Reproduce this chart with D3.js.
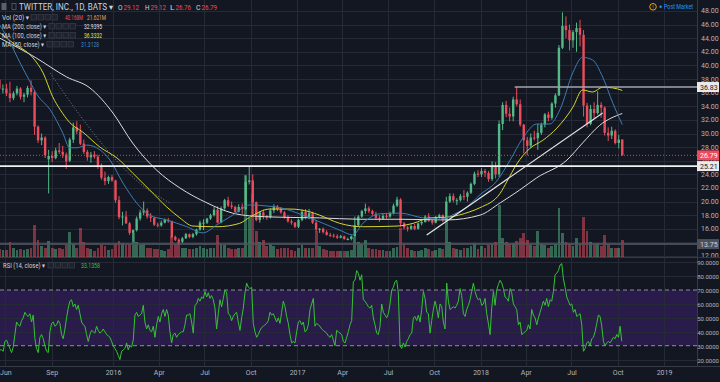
<!DOCTYPE html>
<html><head><meta charset="utf-8">
<script src="https://cdn.jsdelivr.net/npm/d3@7"></script>
<style>
html,body{margin:0;padding:0;background:#131722;overflow:hidden}
svg{display:block}
text{font-family:Roboto,"Liberation Sans","DejaVu Sans",sans-serif}
</style></head><body>
<svg id="c" width="720" height="382"></svg>
<script>
// ---------------- DATA ----------------
const firstWeek = "2015-05-18";           // Monday of the first weekly candle
// weekly candles [open, high, low, close]
const ohlc = [
[37.9,38.2,36.3,36.6],[36.6,37.2,35.9,36.6],[36.6,37.3,35.5,35.9],[35.9,37.6,34.6,35.2],[35.2,36.2,34.9,35.9],
[35.9,37.0,35.6,36.6],[36.6,36.8,35.0,35.4],[35.4,36.0,34.6,35.7],[35.7,37.0,35.3,36.7],[36.7,37.8,35.6,36.1],
[36.1,36.4,29.8,31.0],[31.0,31.2,28.6,29.0],[29.0,30.0,28.3,29.4],[29.4,29.6,26.4,26.8],[26.2,27.6,21.2,26.7],
[26.7,27.4,25.8,26.4],[26.4,27.9,26.2,27.5],[27.5,28.6,27.0,27.3],[27.3,28.2,26.4,26.9],[26.9,27.2,24.8,25.9],
[26.0,29.4,25.8,29.1],[29.1,31.6,28.6,30.9],[30.9,31.8,29.9,30.3],[30.3,31.3,28.3,28.5],[28.5,29.1,27.0,27.3],
[27.3,27.6,26.0,26.5],[26.5,27.3,25.7,26.9],[26.9,27.4,26.3,26.6],[26.6,26.9,24.8,25.3],[25.3,25.6,23.2,23.5],
[23.5,24.4,22.4,23.0],[23.0,23.8,22.6,23.6],[23.6,23.9,22.9,23.1],
[23.1,23.2,19.8,20.2],[20.2,20.8,17.4,17.7],[17.7,18.5,16.5,17.8],[17.8,18.6,16.7,16.8],[16.8,17.0,15.1,15.4],
[15.4,15.9,14.1,15.8],[15.8,17.8,15.6,17.5],[17.5,18.8,17.2,18.4],[18.4,20.0,18.0,18.7],[18.7,19.0,17.5,17.8],
[17.8,18.3,17.0,17.6],[17.6,17.7,16.4,16.6],[16.6,16.9,16.2,16.5],[16.5,17.2,16.3,16.9],[16.9,17.5,16.8,17.3],
[17.3,17.6,16.9,17.1],[17.1,17.2,14.6,14.8],[14.8,15.0,14.2,14.4],[14.4,14.6,13.73,14.1],[14.1,14.8,13.9,14.6],
[14.6,15.4,14.5,15.2],[15.2,15.3,14.6,14.8],[14.8,15.4,14.6,15.2],[15.2,16.0,15.0,15.9],[15.9,17.2,15.7,16.9],
[16.9,17.4,15.8,16.9],[16.9,17.6,16.7,17.5],[17.5,18.2,17.3,18.0],[18.0,19.2,17.8,18.8],[18.8,19.3,16.8,16.9],
[16.9,19.3,16.8,19.0],[19.0,20.4,18.8,20.2],[20.2,20.7,19.2,19.4],[19.4,20.0,18.9,19.2],[19.2,19.4,18.3,18.5],
[18.5,19.6,18.4,19.2],[19.2,19.7,18.2,18.9],[18.9,23.8,18.7,22.9],[22.9,25.2,22.5,23.1],[23.1,24.0,17.9,19.9],
[19.9,20.0,17.1,17.3],[17.3,18.6,16.9,18.4],[18.4,18.8,17.4,17.9],[17.9,18.0,17.3,17.7],[17.7,19.0,17.5,18.7],
[18.7,19.6,18.3,19.3],[19.3,19.5,18.6,18.9],[18.9,19.2,18.2,18.4],[18.4,18.6,17.5,17.7],[17.7,18.0,16.9,17.1],
[17.1,17.4,16.6,16.9],[16.9,17.0,16.1,16.3],
[16.3,17.5,16.1,17.3],[17.3,18.8,17.1,18.5],[18.5,18.9,17.4,17.6],[17.6,18.9,17.4,18.3],[18.3,18.5,16.7,16.9],
[16.9,17.3,15.6,15.9],[15.9,16.1,15.4,16.0],[16.0,16.2,15.3,15.5],[15.5,15.8,15.0,15.1],[15.1,15.4,14.8,15.0],
[15.0,15.3,14.7,14.9],[14.9,15.2,14.5,14.7],[14.7,15.1,14.6,14.9],[14.9,15.0,14.4,14.5],[14.5,14.7,14.3,14.5],
[14.5,15.0,14.3,14.9],[14.9,17.8,14.8,16.5],[16.5,18.0,16.4,17.8],[17.8,18.8,17.6,18.6],[18.6,19.7,18.2,19.0],
[19.0,19.3,18.3,18.6],[18.6,18.8,17.9,18.2],[18.2,18.5,17.3,17.6],[17.6,18.0,17.0,17.5],[17.5,18.3,17.3,17.9],
[17.9,18.3,17.5,17.8],[17.8,18.5,17.6,18.3],[18.3,19.7,18.1,19.4],[19.4,20.7,19.2,20.3],[20.3,20.5,16.3,16.8],
[16.8,17.0,15.9,16.2],[16.2,16.4,15.6,16.0],[16.0,16.6,15.8,16.4],[16.4,16.7,15.8,16.0],[16.0,16.9,15.9,16.8],
[16.8,17.3,16.5,17.0],[17.0,18.0,16.9,17.8],[17.8,18.3,17.0,17.2],[17.2,17.4,16.6,16.9],[16.9,17.9,16.8,17.7],
[17.7,18.2,17.5,18.0],[18.0,18.1,17.0,17.3],[17.3,20.7,17.1,20.0],[20.0,21.2,19.8,20.8],[20.8,21.2,19.9,20.2],
[20.2,20.5,19.5,20.2],[20.2,21.1,20.0,20.8],[20.8,21.7,20.2,20.7],[20.7,21.5,20.0,21.3],[21.3,22.8,21.1,22.6],
[22.6,24.4,22.4,24.1],[24.1,24.6,23.6,24.0],
[24.0,24.9,23.6,24.5],[24.5,24.8,23.6,24.2],[24.2,24.5,22.9,23.3],[23.3,25.9,23.0,25.2],[25.2,25.8,23.4,24.0],
[24.0,31.9,23.6,31.4],[31.4,34.6,30.5,34.2],[34.2,34.8,32.4,32.9],[32.9,33.8,31.8,32.5],[32.5,35.4,31.8,35.0],
[35.0,36.83,34.0,34.3],[34.3,35.0,31.0,31.3],[31.3,31.4,27.1,29.0],[29.0,29.5,26.8,28.2],[28.2,30.0,27.9,29.4],
[29.4,30.4,29.0,29.3],[29.3,31.4,27.6,30.1],[30.1,31.6,29.8,31.3],[31.3,33.0,30.9,32.8],[32.8,33.2,31.8,32.3],
[32.3,34.6,32.0,34.4],[34.4,35.9,33.8,35.6],[35.6,43.0,35.5,42.6],[42.6,47.8,42.4,45.8],[45.8,47.2,44.0,45.2],
[45.2,46.0,42.2,43.7],[43.7,45.2,42.6,44.9],[44.9,46.3,42.0,45.5],[45.5,46.7,42.8,44.5],[44.5,45.2,32.5,34.1],
[34.1,34.5,30.9,31.4],[31.4,34.2,31.2,33.6],[33.6,34.6,32.2,33.0],[33.0,36.2,32.8,34.2],[34.2,34.6,32.3,33.8],
[33.8,34.0,29.7,30.1],[30.1,30.9,28.9,29.7],[29.7,31.0,29.2,30.4],[30.4,30.6,28.4,28.6],[28.6,29.8,27.8,29.1],
[29.12,29.12,26.76,26.79]
];
// weekly volume (peak daily volume of the week, millions)
const volumes = [
18,16,17,35,22,16,18,17,19,22,75,40,25,22,38,22,18,20,19,28,58,30,22,67,35,22,18,14,20,28,25,16,18,
30,38,32,28,30,55,35,28,30,22,20,18,18,16,15,18,48,30,35,22,20,18,18,20,25,22,18,20,22,50,30,28,22,18,18,20,22,190,90,145,60,35,40,25,30,25,18,20,22,20,16,14,
22,28,20,22,20,60,25,18,16,15,14,15,14,14,13,16,47,35,30,40,22,18,18,16,17,15,14,20,24,67,30,20,16,14,15,16,20,18,15,17,20,18,91,35,22,18,16,20,22,25,32,18,
25,22,28,30,35,120,45,35,30,32,38,45,55,40,28,25,60,30,28,22,25,30,114,55,35,30,25,45,30,93,60,35,30,32,25,50,30,22,20,22,40
];
// moving averages [date, value]
const ma200 = [["2015-05-21",44.0],["2015-07-30",41.2],["2015-10-01",38.3],["2015-11-16",36.7],["2016-01-01",33.0],["2016-02-09",28.6],["2016-03-28",24.6],["2016-05-13",22.0],["2016-07-06",19.8],["2016-08-26",18.3],["2016-09-29",17.9],["2016-11-28",17.7],["2017-02-15",17.6],["2017-05-06",17.4],["2017-07-25",17.4],["2017-10-26",17.3],["2017-12-31",18.0],["2018-02-09",19.8],["2018-03-20",21.7],["2018-04-23",23.5],["2018-06-22",26.1],["2018-07-23",28.6],["2018-08-26",31.2],["2018-10-10",32.94]];
const ma100 = [["2015-05-21",44.8],["2015-06-16",43.3],["2015-07-26",41.1],["2015-08-15",38.9],["2015-09-03",35.4],["2015-09-18",33.5],["2015-10-07",31.6],["2015-11-02",30.2],["2015-12-06",28.0],["2016-01-09",26.4],["2016-02-09",24.2],["2016-03-14",21.7],["2016-04-17",19.2],["2016-05-13",17.6],["2016-06-08",16.4],["2016-07-26",16.3],["2016-09-09",16.8],["2016-09-29",17.7],["2016-11-08",18.9],["2016-12-18",18.9],["2017-01-26",18.5],["2017-02-15",18.0],["2017-03-27",16.8],["2017-05-12",16.3],["2017-07-19",16.4],["2017-08-20",16.8],["2017-09-22",17.6],["2017-10-26",17.7],["2017-12-11",18.5],["2017-12-31",19.1],["2018-02-09",21.2],["2018-02-23",23.0],["2018-03-14",25.5],["2018-04-09",27.8],["2018-05-05",29.0],["2018-06-02",30.8],["2018-07-04",33.9],["2018-07-23",36.4],["2018-08-12",36.1],["2018-09-01",36.8],["2018-09-21",36.7],["2018-10-10",36.33]];
const ma50 = [["2015-05-21",45.9],["2015-06-10",43.4],["2015-06-30",40.4],["2015-07-20",37.6],["2015-08-03",35.7],["2015-08-29",33.5],["2015-09-23",30.1],["2015-10-07",27.9],["2015-10-21",27.9],["2015-11-10",28.3],["2015-12-06",27.6],["2015-12-26",26.1],["2016-01-21",22.7],["2016-02-17",19.8],["2016-03-14",18.0],["2016-04-17",17.3],["2016-05-27",16.3],["2016-06-28",15.4],["2016-07-26",16.6],["2016-08-26",18.0],["2016-09-29",19.5],["2016-11-08",19.3],["2016-11-28",19.1],["2017-01-13",18.0],["2017-02-22",16.8],["2017-03-27",15.8],["2017-04-22",15.1],["2017-05-12",16.8],["2017-06-15",18.2],["2017-07-25",18.3],["2017-09-08",17.6],["2017-10-12",17.4],["2017-11-11",18.2],["2017-12-05",19.2],["2017-12-31",21.0],["2018-02-01",22.9],["2018-03-01",26.1],["2018-03-26",29.3],["2018-04-23",31.4],["2018-05-19",31.4],["2018-06-08",33.5],["2018-07-04",39.0],["2018-07-23",41.2],["2018-08-12",40.8],["2018-09-01",38.3],["2018-09-21",34.5],["2018-10-10",31.31]];
const dottedGuide = [["2015-08-29",38.9],["2015-10-27",32.7],["2015-12-26",27.1],["2016-02-23",22.7],["2016-04-23",19.8]];
const trendLine = [["2017-09-16",15.1],["2018-09-01",33.0]];
const resistStart = "2018-03-10";
const levels = {resist:36.83, last:26.79, support:25.21, low:13.75};
// legend read-outs
const volNow = "40.168M", volAvg = "21.621M";
const maNow = {ma200:32.9395, ma100:36.3332, ma50:31.3128};
const rsiNow = 33.1358;
// RSI(14) sampled evenly from first to last bar
const rsiFirst = "2015-05-21", rsiLast = "2018-10-09";
const rsi = [
27,27,26,33,34,31,28,25,29,38,47,45,44,48,50,54,52,51,53,47,
52,35,28,25,36,38,35,30,26,25,40,46,47,44,45,48,46,38,35,42,
50,57,62,63,58,60,56,59,53,47,45,44,38,33,38,41,40,39,44,41,
39,40,42,40,38,37,36,33,30,28,26,23,20,26,27,28,32,27,30,29,
34,52,54,51,52,53,59,47,42,45,41,40,44,36,45,51,47,53,56,51,
56,52,40,32,38,39,36,38,39,40,40,45,52,52,53,47,39,59,60,64,
62,65,64,69,65,68,64,66,63,57,42,53,63,58,64,70,68,53,52,48,
51,53,54,47,41,50,57,68,75,72,71,72,46,40,36,38,41,43,44,45,
46,48,54,52,53,50,47,50,46,54,62,58,51,46,38,32,33,32,40,47,
48,45,47,40,41,45,
56,60,64,44,46,45,44,42,41,40,39,37,36,38,34,30,41,40,39,38,
33,32,36,40,45,48,76,77,84,82,77,81,63,62,60,58,57,59,50,45,
39,38,44,60,54,52,50,53,60,70,72,76,77,68,30,28,32,29,33,35,
38,39,50,51,48,52,47,56,69,64,54,53,39,48,56,62,57,50,60,58,
47,42,75,62,56,57,58,57,59,62,71,66,53,51,56,59,63,69,75,69,
65,63,64,59,60,64,53,46,38,57,69,59,70,74,77,75,71,65,64,62,
71,68,60,58,56,45,47,38,39,40,41,45,42,56,52,50,45,50,54,58,
62,59,64,58,63,62,69,81,82,84,88,89,78,72,65,62,59,60,54,56,
51,52,53,45,26,28,32,33,30,35,36,40,46,52,51,44,33,30,32,33,
32,34,36,35,38,36,44,33.1358
];
const priceTicks = [12,14,16,18,20,22,24,26,28,30,32,34,36,38,40,42,44,46,48];
const rsiTicks = [20,30,40,50,60,70,80,90];
const timeTicks = ["2015-06-01","2015-09-01","2016-01-01","2016-04-01","2016-07-01","2016-10-01","2017-01-01","2017-04-01","2017-07-01","2017-10-01","2018-01-01","2018-04-01","2018-07-01","2018-10-01","2019-01-01"];
const timeLabels = ["Jun","Sep","2016","Apr","Jul","Oct","2017","Apr","Jul","Oct","2018","Apr","Jul","Oct","2019"];

// ---------------- LAYOUT ----------------
const PR = 697, MAIN_B = 257, RSI_T = 258, RSI_B = 366;
const C = {bg:"#131722", grid:"#262a36", axis:"#b2b5be", up:"#53b987", down:"#eb4d5c",
  upV:"rgba(83,185,135,0.5)", downV:"rgba(235,77,92,0.5)", ma200:"#dcdcdc", ma100:"#d6d62c",
  ma50:"#3b7db3", rsi:"#35c235", band:"#2a1c4a", sep:"#363a45"};
const parse = d3.timeParse("%Y-%m-%d");
const x = d3.scaleTime().domain([parse("2016-01-01"), parse("2019-01-01")]).range([113, 664]);
const y = d3.scaleLinear().domain([12, 48]).range([256, 11]);
const yv = d3.scaleLinear().domain([0, 190]).range([MAIN_B, 175]);
const yr = d3.scaleLinear().domain([20, 90]).range([359.6, 262.2]);

const svg = d3.select("#c");
svg.append("rect").attr("width",720).attr("height",382).attr("fill",C.bg);
const defs = svg.append("defs");
defs.append("clipPath").attr("id","cm").append("rect").attr("x",0).attr("y",0).attr("width",PR).attr("height",MAIN_B);
defs.append("clipPath").attr("id","cr").append("rect").attr("x",0).attr("y",RSI_T).attr("width",PR).attr("height",RSI_B-RSI_T);
defs.append("clipPath").attr("id","ca").append("rect").attr("x",0).attr("y",0).attr("width",720).attr("height",MAIN_B);

// RSI band
svg.append("rect").attr("x",0).attr("width",PR).attr("y",yr(70)).attr("height",yr(30)-yr(70)).attr("fill",C.band);

// grid
const g = svg.append("g").attr("shape-rendering","crispEdges");
g.selectAll(".vg").data(timeTicks).join("line").attr("x1",d=>Math.round(x(parse(d)))+0.5).attr("x2",d=>Math.round(x(parse(d)))+0.5)
  .attr("y1",0).attr("y2",RSI_B).attr("stroke",C.grid);
g.selectAll(".hg").data(priceTicks).join("line").attr("x1",0).attr("x2",PR).attr("y1",d=>Math.round(y(d))+0.5).attr("y2",d=>Math.round(y(d))+0.5).attr("stroke",C.grid);
g.selectAll(".rg").data(rsiTicks.filter(t=>t!==30&&t!==70)).join("line").attr("x1",0).attr("x2",PR).attr("y1",d=>Math.round(yr(d))+0.5).attr("y2",d=>Math.round(yr(d))+0.5).attr("stroke",C.grid);

// dashed 70 / 30
svg.selectAll(".rl").data([70,30]).join("line").attr("x1",0).attr("x2",PR).attr("y1",d=>yr(d)).attr("y2",d=>yr(d))
  .attr("stroke","#8c8f9b").attr("stroke-dasharray","4,3").attr("stroke-width",1);

// separators
svg.append("line").attr("x1",0).attr("x2",720).attr("y1",MAIN_B+0.5).attr("y2",MAIN_B+0.5).attr("stroke",C.sep);
svg.append("line").attr("x1",0).attr("x2",720).attr("y1",RSI_B+0.5).attr("y2",RSI_B+0.5).attr("stroke",C.sep);
svg.append("line").attr("x1",PR+0.5).attr("x2",PR+0.5).attr("y1",0).attr("y2",RSI_B).attr("stroke",C.sep);

const week = i => d3.timeDay.offset(parse(firstWeek), i*7 + 2);
const main = svg.append("g").attr("clip-path","url(#cm)");

// volume
main.append("g").attr("shape-rendering","crispEdges").selectAll("rect").data(volumes).join("rect")
  .attr("x",(v,i)=>x(week(i))-1.4).attr("width",2.8)
  .attr("y",v=>yv(v)).attr("height",v=>MAIN_B-yv(v))
  .attr("fill",(v,i)=>ohlc[i][3]>=ohlc[i][0]?C.upV:C.downV);

// 13.75 level line
main.append("line").attr("x1",0).attr("x2",PR).attr("y1",y(levels.low)).attr("y2",y(levels.low))
  .attr("stroke","#50545f").attr("stroke-width",2).attr("opacity",0.85);

// candles
const cg = main.append("g");
cg.selectAll("line").data(ohlc).join("line")
  .attr("x1",(d,i)=>x(week(i))).attr("x2",(d,i)=>x(week(i)))
  .attr("y1",d=>y(d[1])).attr("y2",d=>y(d[2]))
  .attr("stroke",d=>d[3]>=d[0]?C.up:C.down).attr("stroke-width",1);
cg.selectAll("rect").data(ohlc).join("rect")
  .attr("x",(d,i)=>x(week(i))-1.2).attr("width",2.4)
  .attr("y",d=>y(Math.max(d[0],d[3]))).attr("height",d=>Math.max(1,Math.abs(y(d[0])-y(d[3]))))
  .attr("fill",d=>d[3]>=d[0]?C.up:C.down);

// lines
const line = d3.line().x(d=>x(parse(d[0]))).y(d=>y(d[1])).curve(d3.curveMonotoneX);
main.append("path").datum(dottedGuide).attr("d",line).attr("fill","none").attr("stroke","#7d808b").attr("stroke-width",1).attr("stroke-dasharray","1,2");
main.append("path").datum(ma200).attr("d",line).attr("fill","none").attr("stroke",C.ma200).attr("stroke-width",1);
main.append("path").datum(ma100).attr("d",line).attr("fill","none").attr("stroke",C.ma100).attr("stroke-width",1);
main.append("path").datum(ma50).attr("d",line).attr("fill","none").attr("stroke",C.ma50).attr("stroke-width",1);
main.append("path").datum(trendLine).attr("d",d3.line().x(d=>x(parse(d[0]))).y(d=>y(d[1]))).attr("fill","none").attr("stroke","#e6e6e6").attr("stroke-width",1.2);

// horizontal levels
main.append("line").attr("x1",x(parse(resistStart))).attr("x2",PR).attr("y1",y(levels.resist)).attr("y2",y(levels.resist))
  .attr("stroke","#a3a6ad").attr("stroke-width",1.6);
main.append("line").attr("x1",0).attr("x2",PR).attr("y1",y(levels.last)).attr("y2",y(levels.last))
  .attr("stroke",C.down).attr("stroke-width",1).attr("stroke-dasharray","1,2").attr("opacity",0.9);
main.append("line").attr("x1",0).attr("x2",PR).attr("y1",y(levels.support)).attr("y2",y(levels.support))
  .attr("stroke","#f2f2f2").attr("stroke-width",1.6);

// RSI line
const rsiT = d3.scaleLinear().domain([0, rsi.length-1]).range([parse(rsiFirst), parse(rsiLast)]);
svg.append("g").attr("clip-path","url(#cr)").append("path").datum(rsi)
  .attr("d", d3.line().x((v,i)=>x(rsiT(i))).y(v=>yr(v)))
  .attr("fill","none").attr("stroke",C.rsi).attr("stroke-width",1);

// axes
const styleAxis = (fs) => sel => { sel.select(".domain").remove(); sel.selectAll("text").attr("fill",C.axis).style("font-size",fs+"px"); };
svg.append("g").attr("clip-path","url(#ca)").append("g").attr("transform",`translate(${PR},0)`)
  .call(d3.axisRight(y).tickValues(priceTicks).tickFormat(d3.format(".2f")).tickSize(0).tickPadding(4)).call(styleAxis(7))
  .selectAll("text").attr("dy","0.28em");
const ra = svg.append("g").attr("transform",`translate(${PR},0)`)
  .call(d3.axisRight(yr).tickValues(rsiTicks).tickFormat(d3.format(".4f")).tickSize(0).tickPadding(2)).call(styleAxis(6));
ra.selectAll("text").attr("x",22).attr("text-anchor","end").attr("dy","0.42em");
svg.append("g").attr("transform",`translate(0,${RSI_B})`)
  .call(d3.axisBottom(x).tickValues(timeTicks.map(parse)).tickFormat((d,i)=>timeLabels[i]).tickSize(0).tickPadding(4)).call(styleAxis(7));

// price boxes on axis
const boxes = [
 {v:levels.resist, fill:"#e9eaec", tc:"#131722"},
 {v:levels.last, fill:C.down, tc:"#ffffff"},
 {v:levels.support, fill:"#e9eaec", tc:"#131722"},
 {v:levels.low, fill:"#4c505b", tc:"#d1d4dc"}];
const bg = svg.append("g");
bg.selectAll("rect").data(boxes).join("rect").attr("x",PR).attr("width",22).attr("y",d=>y(d.v)-5).attr("height",10).attr("fill",d=>d.fill);
bg.selectAll("text").data(boxes).join("text").attr("x",PR+3).attr("y",d=>y(d.v)+2.5).attr("fill",d=>d.tc)
  .style("font-size","7px").text(d=>d3.format(".2f")(d.v));

// ---------------- LEGENDS ----------------
const T = (sx,sy,str,fill,size,len) => { const t = svg.append("text").attr("x",sx).attr("y",sy).attr("fill",fill).style("font-size",size+"px").text(str);
  if (len) t.attr("textLength",len).attr("lengthAdjust","spacingAndGlyphs"); return t; };
const icons = (sx,sy) => { for (let k=0;k<4;k++) svg.append("rect").attr("x",sx+k*7).attr("y",sy-5).attr("width",5.5).attr("height",5.5)
  .attr("fill","#1e222d").attr("stroke","#3a3e4a").attr("stroke-width",0.7); };
svg.append("rect").attr("x",1.5).attr("y",3).attr("width",5).attr("height",7).attr("fill","#5d606b");
svg.append("rect").attr("x",12).attr("y",3.5).attr("width",4).attr("height",6).attr("fill","none").attr("stroke","#5d606b").attr("stroke-width",0.8);
T(19,10,"TWITTER, INC., 1D, BATS ▾","#d1d4dc",8.5,94);
const ohlcLast = ohlc[ohlc.length-1];
[["O",118,ohlcLast[0]],["H",145,ohlcLast[1]],["L",170,ohlcLast[2]],["C",196,ohlcLast[3]]].forEach(([l,px,v])=>{
  T(px,10,l,"#d1d4dc",8,4.5); T(px+5.5,10,d3.format(".2f")(v),C.down,8,15.5);
});
T(2,19.5,"Vol (20) ▾","#d1d4dc",7,27); icons(31,19.5);
T(65,19.5,volNow,C.down,7,18); T(87,19.5,volAvg,"#f0a050",7,19);
T(2,28.5,"MA (200, close) ▾","#d1d4dc",7,44); icons(49,28.5); T(84,28.5,d3.format(".4f")(maNow.ma200),"#e0e3eb",7,18);
T(2,37.5,"MA (100, close) ▾","#d1d4dc",7,44); icons(49,37.5); T(84,37.5,d3.format(".4f")(maNow.ma100),"#e8e83a",7,18);
T(2,46.5,"MA (50, close) ▾","#d1d4dc",7,42); icons(47,46.5); T(81,46.5,d3.format(".4f")(maNow.ma50),"#3d8bc9",7,18);
T(3,267.5,"RSI (14, close) ▾","#d1d4dc",7,42); icons(48,267.5); T(81,267.5,d3.format(".4f")(rsiNow),C.rsi,7,19);
// Post market
svg.append("circle").attr("cx",653).attr("cy",6.8).attr("r",3.3).attr("fill","none").attr("stroke","#ff9800").attr("stroke-width",1);
T(652.2,8.8,"!","#ff9800",5.5);
svg.append("circle").attr("cx",660.6).attr("cy",6.8).attr("r",1.2).attr("fill","#2196f3");
T(664,9.3,"Post Market","#2196f3",7,29);
</script>
</body></html>
